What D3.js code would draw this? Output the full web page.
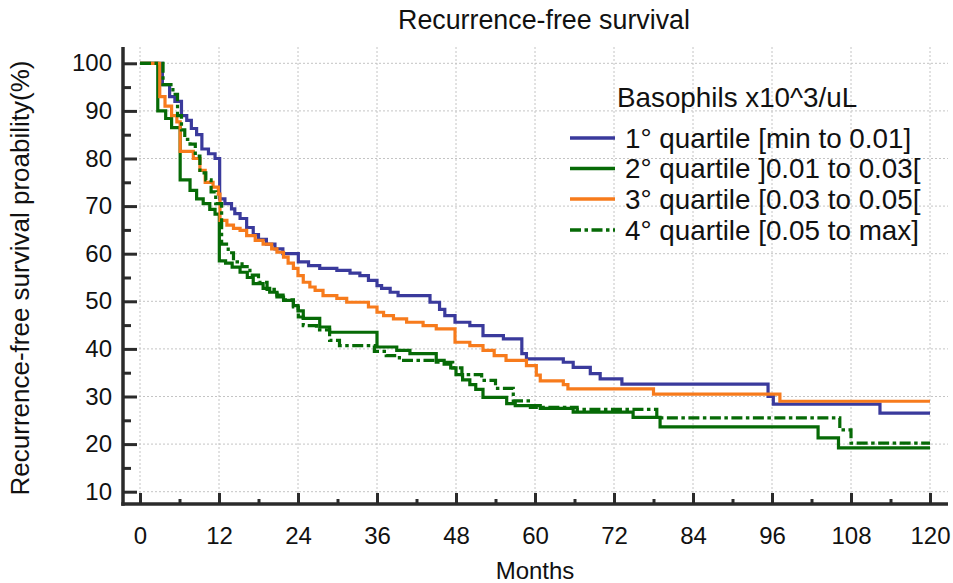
<!DOCTYPE html>
<html>
<head>
<meta charset="utf-8">
<script src="https://cdn.jsdelivr.net/npm/d3@7"></script>
<style>
  body { margin: 0; background: #fff; }
  text { font-family: "Liberation Sans", Arial, sans-serif; fill: #111; }
</style>
</head>
<body>
<script>
const width = 953;
const height = 583;

// Kaplan-Meier steps: [month, survival %]
const q1 = [[0,100],[3.4,95.5],[4.5,93],[5.3,92],[6.3,89],[7.1,88],[7.8,86.3],[8.6,85],[9.4,82],[10.4,81],[11.4,80],
  [12.1,71.5],[12.9,70.5],[13.9,69.4],[14.4,68.4],[15.2,67.4],[16.2,65.5],[17.2,64],[18,63],[19.2,62],[20.5,61],[21.7,60],
  [24.05,58.3],[25.6,57.5],[27.3,56.9],[29.9,56.5],[31.9,55.9],[33.4,55.4],[34.7,54.4],[36,53.3],[36.7,52.7],[38,51.9],
  [39.2,51.2],[44.05,49.8],[45.5,48.3],[46.3,47],[47.85,45.6],[50.1,44.9],[52.1,42.8],[55.2,42.1],[58,39],[58.7,37.9],
  [64.3,37.2],[65.8,36.1],[68.4,34.8],[69.9,33.7],[73.2,32.6],[95.4,30],[96.2,28.4],[112.4,26.5],[120,26.5]];

const q2 = [[0,100],[2.7,90],[3.9,88.4],[4.8,86.5],[6.1,75.5],[7.6,73.3],[8.6,71.5],[9.6,70.5],[10.6,69.3],[11.4,68.3],
  [12.05,58.5],[13,58],[14,57.2],[15.2,56.1],[16.3,55],[17.2,53.7],[18.7,52.7],[19.7,51.9],[20.8,50.9],[21.8,50.2],
  [23.3,49.1],[24,48],[24.8,46.4],[27.3,44.6],[28.8,43.5],[36,40.4],[39,39.7],[41,39],[45,37.6],[46.2,36.8],[47.2,36],
  [48,34.6],[49,33.5],[50.1,32.5],[51,31.5],[52.1,29.8],[55.7,28.5],[57,28.1],[60.8,27.5],[65.8,26.7],[74.9,25.6],
  [79,23.6],[103,21.3],[106.1,19.2],[120,19.2]];

const q3 = [[0,100],[3,93],[3.8,91],[4.8,89],[5.6,87.7],[6.1,81.5],[8.1,80],[9.1,77.5],[9.9,75],[11.1,74],[11.9,72.5],
  [12.15,67],[13.2,66],[14.2,65.3],[15.2,64.9],[16.2,63.8],[17.5,62.8],[18.7,62],[20,61],[20.8,60.3],[21.8,59.3],
  [22.5,58],[23.3,56.9],[24,55.4],[24.8,54],[25.8,53],[26.6,52.3],[27.8,51.2],[29.9,50.6],[31.4,49.8],[34.7,48.8],
  [36,47.7],[37,47],[38.5,46.3],[40.5,45.6],[43,44.9],[45,44.2],[47.85,41.4],[50.1,40.7],[52.1,39.7],[53.8,38.6],
  [55.6,37.6],[58.7,36.5],[60.2,34.5],[60.8,33.3],[64.3,32.5],[65,31.6],[78,30.5],[97.2,29],[120,29]];

const q4 = [[0,100],[3.5,95.5],[5,93.5],[5.7,89],[6.3,86],[6.8,84],[7.6,83],[8.4,80.5],[9.1,77],[10,75.5],[10.8,73],
  [11.5,70.5],[12.4,62],[13.4,60.2],[14.2,58.3],[15.5,57.3],[16.7,55.5],[18,54],[19.3,52.5],[20.8,51.3],[22,50.3],
  [23.3,48.8],[24.05,46.7],[24.8,44.9],[26.8,44],[28.8,41.8],[30.3,40.7],[35.6,39.5],[37.4,38.6],[39.4,37.6],[45,37.2],
  [47.5,36],[48.9,34.6],[51.9,33.4],[54,31.7],[56.7,29.1],[59.3,27.7],[66.4,27.3],[78.5,25.5],[106.3,23],[108,20.2],[120,20.2]];

const legendTitle = "Basophils x10^3/uL";
const legendLabels = ["1\u00b0 quartile [min to 0.01]", "2\u00b0 quartile ]0.01 to 0.03[", "3\u00b0 quartile [0.03 to 0.05[", "4\u00b0 quartile [0.05 to max]"];
const colors = ["#3a3a9c", "#066a06", "#f77b1c", "#066a06"];
const dashes = [null, null, null, "11,3.5,3.5,3.5"];
const xTicks = d3.range(0, 121, 12);
const yTicks = d3.range(10, 101, 10);

const frame = { left: 123, right: 948, top: 47, bottom: 504 };

const x = d3.scaleLinear().domain([0, 120]).range([140, 930]);
const y = d3.scaleLinear().domain([10, 100]).range([491.7, 63.3]);

const svg = d3.select("body").append("svg")
  .attr("width", width)
  .attr("height", height);

// grid
const grid = svg.append("g").attr("stroke", "#c4c4c4").attr("stroke-width", 1).attr("stroke-dasharray", "2,2");
grid.selectAll(".gx").data(xTicks).join("line")
  .attr("x1", d => x(d)).attr("x2", d => x(d))
  .attr("y1", frame.top).attr("y2", frame.bottom);
grid.selectAll(".gy").data(yTicks).join("line")
  .attr("y1", d => y(d)).attr("y2", d => y(d))
  .attr("x1", frame.left).attr("x2", frame.right);

// curves
const line = d3.line().x(d => x(d[0])).y(d => y(d[1])).curve(d3.curveStepAfter);
[q1, q2, q3, q4].forEach((s, i) => {
  svg.append("path")
    .datum(s)
    .attr("fill", "none")
    .attr("stroke", colors[i])
    .attr("stroke-width", 3.2)
    .attr("stroke-dasharray", dashes[i])
    .attr("d", line);
});

// axes
const styleAxis = g => {
  g.select(".domain").remove();
  g.selectAll(".tick line").attr("stroke", "#2b2b2b").attr("stroke-width", 3);
  g.selectAll("text").attr("font-size", 24).attr("fill", "#111");
};

svg.append("g").attr("transform", `translate(${frame.left},0)`)
  .call(d3.axisLeft(y).tickValues(yTicks).tickSize(-14).tickPadding(11))
  .call(styleAxis);
svg.append("g").attr("transform", `translate(${frame.left},0)`)
  .call(d3.axisLeft(y).tickValues(d3.range(15, 100, 10)).tickSize(-8).tickFormat(""))
  .call(styleAxis);
svg.append("g").attr("transform", `translate(0,${frame.bottom})`)
  .call(d3.axisBottom(x).tickValues(xTicks).tickSize(-11).tickPadding(23))
  .call(styleAxis);
svg.append("g").attr("transform", `translate(0,${frame.bottom})`)
  .call(d3.axisBottom(x).tickValues(d3.range(6, 120, 12)).tickSize(-5).tickFormat(""))
  .call(styleAxis);

svg.append("line").attr("x1", frame.left).attr("x2", frame.left)
  .attr("y1", frame.top).attr("y2", frame.bottom + 1.75)
  .attr("stroke", "#2b2b2b").attr("stroke-width", 3.5);
svg.append("line").attr("x1", frame.left - 1.75).attr("x2", frame.right)
  .attr("y1", frame.bottom).attr("y2", frame.bottom)
  .attr("stroke", "#2b2b2b").attr("stroke-width", 3.5);

// titles
svg.append("text").attr("x", 544).attr("y", 29).attr("text-anchor", "middle")
  .attr("font-size", 26.8).text("Recurrence-free survival");
svg.append("text").attr("x", 535).attr("y", 579).attr("text-anchor", "middle")
  .attr("font-size", 24).text("Months");
svg.append("text").attr("transform", "translate(29,278) rotate(-90)").attr("text-anchor", "middle")
  .attr("font-size", 26).text("Recurrence-free survival proability(%)");

// legend
const legend = svg.append("g");
legend.append("text").attr("x", 617).attr("y", 107).attr("font-size", 27.8).text(legendTitle);
const rowY = [138, 168.5, 199, 230];
legendLabels.forEach((label, i) => {
  legend.append("line")
    .attr("x1", 570).attr("x2", 615)
    .attr("y1", rowY[i]).attr("y2", rowY[i])
    .attr("stroke", colors[i]).attr("stroke-width", 3.5)
    .attr("stroke-dasharray", dashes[i]);
  legend.append("text").attr("x", 625).attr("y", rowY[i] + 9.5)
    .attr("font-size", 27.8).text(label);
});
</script>
</body>
</html>
